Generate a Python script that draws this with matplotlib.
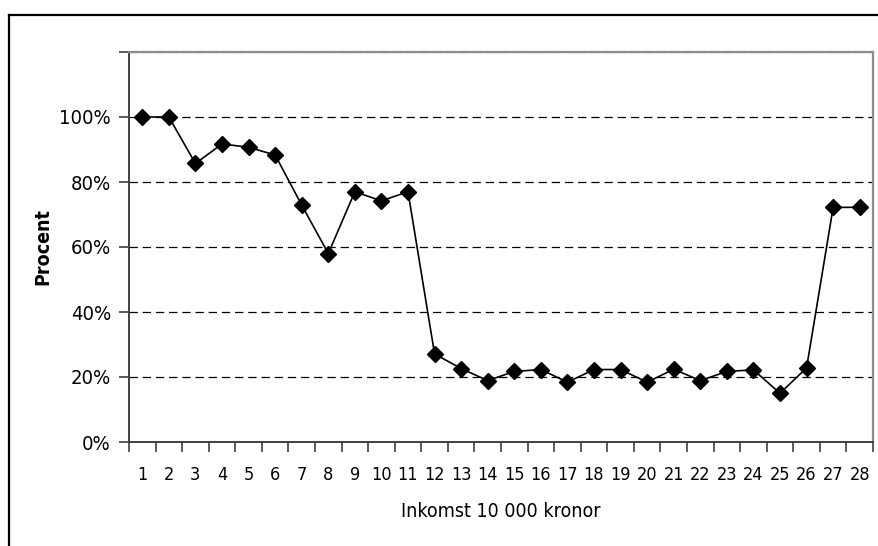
import matplotlib.pyplot as plt
from matplotlib.lines import Line2D
from matplotlib.ticker import FixedLocator, FuncFormatter

plt.rcParams['font.family'] = ['DejaVu Sans']
plt.rcParams['font.stretch'] = 'condensed'
plt.rcParams['lines.scale_dashes'] = False

# data
inkomst = list(range(1, 29))
procent = [100, 100, 85.7, 91.7, 90.7, 88.3, 72.9, 58.0, 77.0, 74.2, 77.0,
           27.1, 22.6, 18.9, 21.7, 22.3, 18.4, 22.3, 22.3, 18.4, 22.4, 18.9,
           21.7, 22.2, 15.0, 22.8, 72.2, 72.2]
y_ticks = [0, 20, 40, 60, 80, 100, 120]

fig = plt.figure(figsize=(8.79, 5.46), dpi=100)
ax = fig.add_axes([129 / 879, 104 / 546, 744 / 879, 390 / 546])

# outer frame (only left and top edges visible)
fig.add_artist(Line2D([9 / 879, 9 / 879], [0, 1 - 15 / 546], color='black', lw=1.6,
                      transform=fig.transFigure))
fig.add_artist(Line2D([9 / 879, 1], [1 - 15 / 546, 1 - 15 / 546], color='black', lw=1.6,
                      transform=fig.transFigure))

ax.plot(inkomst, procent, color='black', lw=1.2, marker='D', markersize=8.5,
        markerfacecolor='black', markeredgecolor='black', zorder=3, clip_on=False)

ax.set_xlim(0.5, 28.5)
ax.set_ylim(0, 120)

# category axis: ticks between categories, labels at centres
ax.xaxis.set_major_locator(FixedLocator([i + 0.5 for i in range(0, 29)]))
ax.xaxis.set_major_formatter(FuncFormatter(lambda v, p: ''))
ax.xaxis.set_minor_locator(FixedLocator(inkomst))
ax.set_xticklabels([str(i) for i in inkomst], minor=True)
ax.tick_params(axis='x', which='major', direction='out', length=7, width=1.2, color='#404040')
ax.tick_params(axis='x', which='minor', length=0, pad=17, labelsize=13)

ax.set_yticks(y_ticks)
ax.set_yticklabels([f'{v}%' if v <= 100 else '' for v in y_ticks])
ax.tick_params(axis='y', direction='out', length=7, width=1.2, color='#404040',
               labelsize=14.5, pad=6)

ax.grid(axis='y', color='black', lw=0.9, linestyle=(0, (6, 3.5)), zorder=1)
ax.get_ygridlines()[-1].set_color('#808080')
ax.set_axisbelow(True)

for s in ['left', 'bottom']:
    ax.spines[s].set_color('#404040')
    ax.spines[s].set_linewidth(1.4)
for s in ['top', 'right']:
    ax.spines[s].set_color('#8c8c8c')
    ax.spines[s].set_linewidth(1.6)

ax.set_ylabel('Procent', fontsize=14, fontweight='bold', labelpad=5)
ax.set_xlabel('Inkomst 10 000 kronor', fontsize=14, labelpad=13)

fig.savefig('out.png', dpi=100)
